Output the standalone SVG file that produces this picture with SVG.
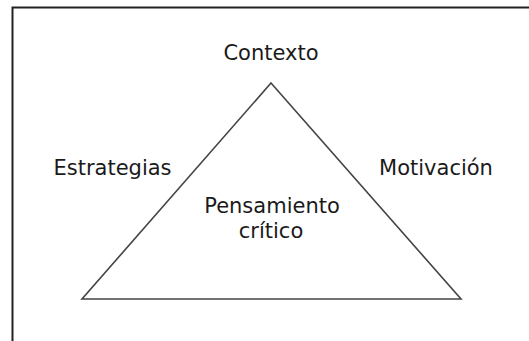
<svg xmlns="http://www.w3.org/2000/svg" width="529" height="341" viewBox="0 0 529 341">
<style>
.t{font-family:"DejaVu Sans","Verdana",sans-serif;font-size:21px;fill:#1a1a1a;text-anchor:middle}
.frame{fill:none;stroke:#222;stroke-width:2}
.tri{fill:none;stroke:#444;stroke-width:1.6;stroke-linejoin:miter}
</style>
<rect width="529" height="341" fill="#ffffff"/>
<path class="frame" d="M12.5 341 V7.5 H529"/>
<g id="triangle"><polygon class="tri" points="271,83 461,299 82,299"/></g>
<g id="contexto"><text class="t" x="271" y="60">Contexto</text></g>
<g id="estrategias"><text class="t" x="112.5" y="175">Estrategias</text></g>
<g id="motivacion"><text class="t" x="436" y="175">Motivación</text></g>
<g id="pensamiento"><text class="t" x="272" y="213">Pensamiento</text><text class="t" x="271" y="238">crítico</text></g>
</svg>
